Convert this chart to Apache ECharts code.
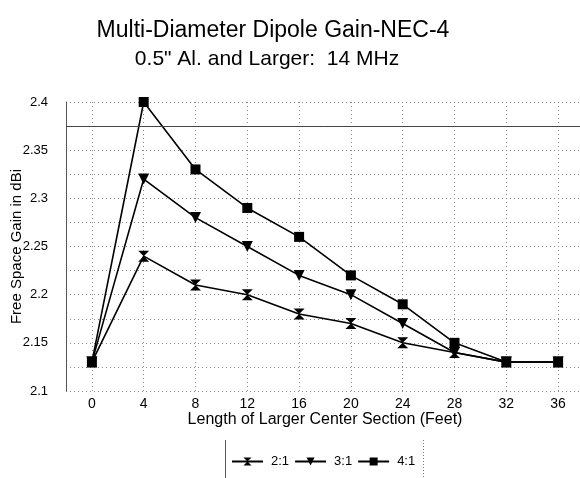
<!DOCTYPE html>
<html><head><meta charset="utf-8">
<script src="https://cdn.jsdelivr.net/npm/echarts@6/dist/echarts.min.js"></script>
<style>html,body{margin:0;padding:0;background:#fff}#c{width:580px;height:478px}</style>
</head><body><div id="c"></div>
<script>
const categories = ['0','4','8','12','16','20','24','28','32','36'];
const ratio21 = [2.13, 2.24, 2.21, 2.20, 2.18, 2.17, 2.15, 2.14, 2.13, 2.13];
const ratio31 = [2.13, 2.32, 2.28, 2.25, 2.22, 2.20, 2.17, 2.14, 2.13, 2.13];
const ratio41 = [2.13, 2.40, 2.33, 2.29, 2.26, 2.22, 2.19, 2.15, 2.13, 2.13];
const seriesNames = ['2:1', '3:1', '4:1'];

const FONT = '"Liberation Sans", Arial, sans-serif';
const hourglass = 'path://M0,0 L10,0 L5,5 L10,10 L0,10 L5,5 Z';
const downTri = 'path://M0,0 L10,0 L5,10 Z';

function mk(name, data, symbol, size) {
  return {
    name, type: 'line', data, symbol, symbolSize: size,
    lineStyle: { color: '#000', width: 1.6 },
    itemStyle: { color: '#000' },
    animation: false
  };
}

const chart = echarts.init(document.getElementById('c'));
chart.setOption({
  backgroundColor: '#fff',
  animation: false,
  title: [
    { text: 'Multi-Diameter Dipole Gain-NEC-4', left: 268, top: 14, textAlign: 'center',
      textStyle: { fontFamily: FONT, fontSize: 23, fontWeight: 'normal', color: '#000' } },
    { text: '0.5" Al. and Larger:  14 MHz', left: 262, top: 44, textAlign: 'center',
      textStyle: { fontFamily: FONT, fontSize: 21, fontWeight: 'normal', color: '#000' } }
  ],
  grid: { left: 66, top: 102, width: 518, height: 289, containLabel: false, outerBoundsMode: 'none' },
  xAxis: {
    type: 'category', data: categories, boundaryGap: true,
    name: 'Length of Larger Center Section (Feet)', nameLocation: 'middle', nameGap: 21,
    nameMoveOverlap: false,
    nameTextStyle: { fontFamily: FONT, fontSize: 16, color: '#000' },
    axisLine: { show: false }, axisTick: { show: false },
    axisLabel: { fontFamily: FONT, fontSize: 14, color: '#000', margin: 6 },
    splitLine: { show: true, alignWithLabel: true, lineStyle: { color: '#888', type: [1, 3], width: 1 } }
  },
  yAxis: {
    type: 'value', min: 2.1, max: 2.4, interval: 0.05,
    name: 'Free Space Gain in dBi', nameLocation: 'middle', nameGap: 42,
    nameMoveOverlap: false,
    nameTextStyle: { fontFamily: FONT, fontSize: 15, color: '#000' },
    axisLine: { show: true, lineStyle: { color: '#555', width: 1 } },
    axisTick: { show: false },
    axisLabel: { fontFamily: FONT, fontSize: 13, color: '#000', margin: 18,
      formatter: v => String(+v.toFixed(2)) },
    splitLine: { show: true, lineStyle: { color: '#888', type: [1, 3], width: 1 } },
    minorTick: { show: false, splitNumber: 2 },
    minorSplitLine: { show: true, lineStyle: { color: '#888', type: [1, 3], width: 1 } }
  },
  legend: {
    top: 450, left: 226, itemWidth: 31, itemHeight: 10, itemGap: 5,
    data: seriesNames,
    textStyle: { fontFamily: FONT, fontSize: 13, color: '#000', padding: [0, 0, 0, 3] }
  },
  graphic: [
    { type: 'line', shape: { x1: 225.5, y1: 440, x2: 225.5, y2: 478 }, style: { stroke: '#555', lineWidth: 1 } },
    { type: 'line', shape: { x1: 423.5, y1: 440, x2: 423.5, y2: 478 }, style: { stroke: '#777', lineWidth: 1, lineDash: [1, 2] } }
  ],
  series: [
    Object.assign(mk(seriesNames[0], ratio21, hourglass, 11), {
      markLine: { silent: true, symbol: 'none', precision: 3, label: { show: false },
        lineStyle: { color: '#444', type: 'solid', width: 1 },
        data: [{ yAxis: 2.375 }] }
    }),
    mk(seriesNames[1], ratio31, downTri, 11),
    mk(seriesNames[2], ratio41, 'rect', 10)
  ]
});
</script></body></html>
